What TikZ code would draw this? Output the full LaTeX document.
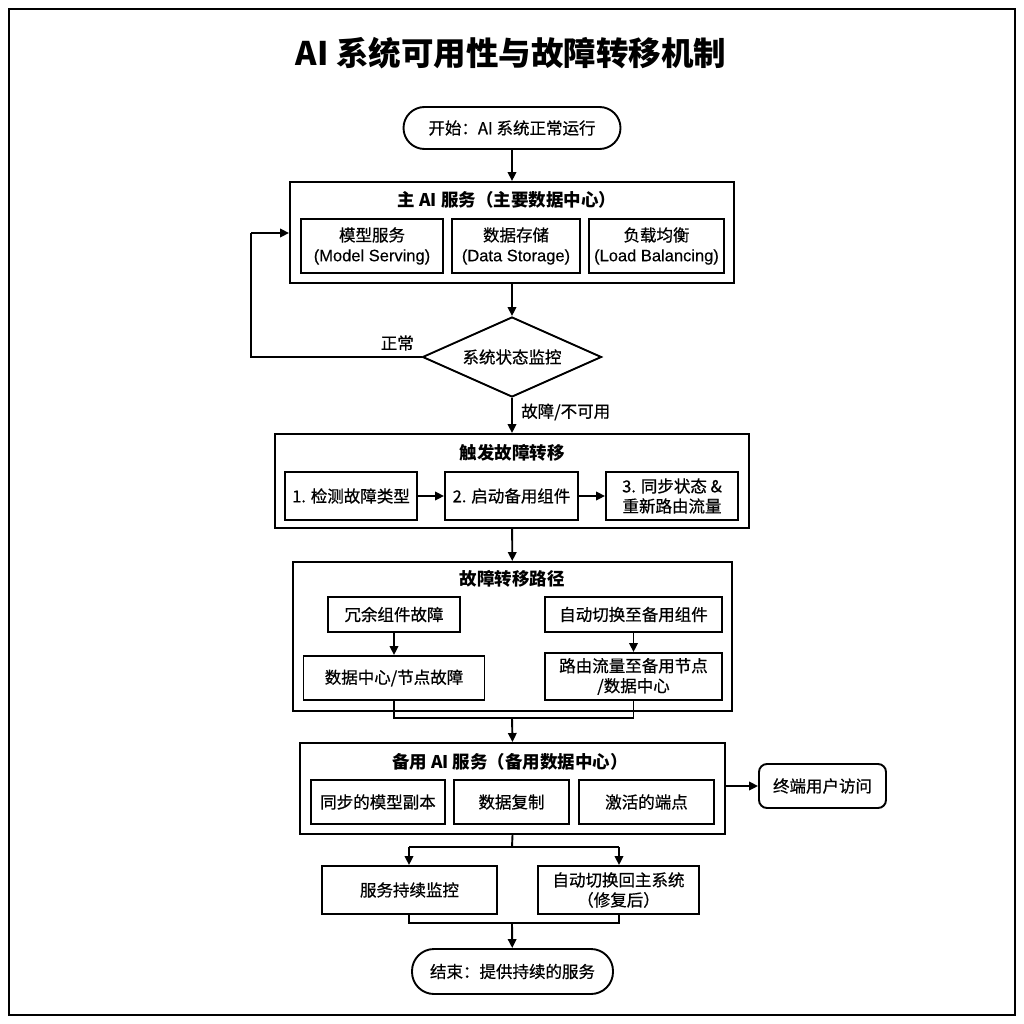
\documentclass[tikz,border=0pt]{standalone}
\usepackage{fontspec}
\setmainfont{Noto Sans CJK SC}
\newfontfamily\med{Noto Sans CJK SC}[FakeBold=0.6]
\newfontfamily\lat{Liberation Sans}[FakeBold=0.3]
\usetikzlibrary{shapes.geometric,arrows.meta}
\tikzset{
  lw/.style={line width=1.9pt},
  frame/.style={draw, lw, rectangle, inner sep=0pt},
  sub/.style={draw, lw, rectangle, inner sep=0pt, align=center, font=\med\fontsize{16.5}{20}\selectfont},
  ttl/.style={inner sep=0pt, font=\fontsize{17.5}{20}\selectfont\bfseries},
  pill/.style={draw, lw, rectangle, rounded corners=21pt, inner sep=0pt, font=\med\fontsize{16.5}{20}\selectfont},
  lbl/.style={inner sep=0pt, font=\med\fontsize{16.5}{20}\selectfont},
  arr/.style={lw, -{Triangle[length=9pt,width=8.5pt]}},
  ln/.style={lw}
}
\begin{document}
\begin{tikzpicture}[x=1pt,y=-1pt]
\useasboundingbox (0,0) rectangle (1024,1024);
\draw[line width=2pt] (8.5,9) rectangle (1015,1015);
\node[inner sep=0pt, font=\fontsize{32.5}{36}\selectfont\bfseries] (title) at (511,53) {AI 系统可用性与故障转移机制};

% start
\node[pill, minimum width=217pt, minimum height=42pt] (start) at (512,128) {开始：AI 系统正常运行};

% main service
\node[frame, minimum width=444pt, minimum height=101pt] (main) at (512,232.5) {};
\node[ttl] (maint) at (507,200) {主 AI 服务（主要数据中心）};
\node[sub, minimum width=142pt, minimum height=54pt] (ms) at (372,246) {模型服务\\{\lat (Model Serving)}};
\node[sub, minimum width=128pt, minimum height=54pt] (dst) at (516,246) {数据存储\\{\lat (Data Storage)}};
\node[sub, minimum width=135pt, minimum height=54pt] (lb) at (656.5,246) {负载均衡\\{\lat (Load Balancing)}};

% decision
\node[draw, lw, diamond, aspect=2.24, inner sep=0pt, minimum width=179pt, minimum height=80pt, font=\med\fontsize{16.5}{20}\selectfont] (dec) at (512,357) {系统状态监控};
\node[lbl, anchor=east] (ok) at (414,343) {正常};
\node[lbl, anchor=west] (fail) at (521,412) {故障/不可用};
\coordinate (lp1) at (251,357);
\coordinate (lp2) at (251,233);
\coordinate (lp3) at (main.west |- lp2);

% trigger
\node[frame, minimum width=474pt, minimum height=94pt] (trig) at (512,481) {};
\node[ttl] (trigt) at (512,453) {触发故障转移};
\node[sub, minimum width=132pt, minimum height=48pt] (t1) at (351,496) {1. 检测故障类型};
\node[sub, minimum width=133pt, minimum height=48pt] (t2) at (511.5,496) {2. 启动备用组件};
\node[sub, minimum width=132pt, minimum height=48pt] (t3) at (672,496) {3. 同步状态 \&\\重新路由流量};

% path
\node[frame, minimum width=439pt, minimum height=149pt] (path) at (512.5,636.5) {};
\node[ttl] (patht) at (512,579) {故障转移路径};
\node[sub, minimum width=132pt, minimum height=35pt] (p1) at (394,614.5) {冗余组件故障};
\node[sub, minimum width=181pt, minimum height=44pt] (p2) at (394,678) {数据中心/节点故障};
\node[sub, minimum width=177pt, minimum height=35pt] (p3) at (633.5,614.5) {自动切换至备用组件};
\node[sub, minimum width=177pt, minimum height=47pt] (p4) at (633.5,676.5) {路由流量至备用节点\\/数据中心};
\coordinate (m1) at (394,718);
\coordinate (m2) at (633.5,718);
\coordinate (m3) at (512,718);

% backup
\node[frame, minimum width=425pt, minimum height=91pt] (bk) at (512.5,788.5) {};
\node[ttl] (bkt) at (510,762) {备用 AI 服务（备用数据中心）};
\node[sub, minimum width=134pt, minimum height=44pt] (b1) at (378,802) {同步的模型副本};
\node[sub, minimum width=115pt, minimum height=44pt] (b2) at (511.5,802) {数据复制};
\node[sub, minimum width=135pt, minimum height=44pt] (b3) at (646.5,802) {激活的端点};
\node[draw, lw, rectangle, rounded corners=8pt, inner sep=0pt, minimum width=127pt, minimum height=44pt, font=\med\fontsize{16.5}{20}\selectfont] (eu) at (822.5,786) {终端用户访问};

% lower
\coordinate (s0) at (512,847);
\coordinate (s1) at (409,847);
\coordinate (s2) at (619,847);
\node[sub, minimum width=175pt, minimum height=48pt] (mon) at (409.5,890) {服务持续监控};
\node[sub, minimum width=161pt, minimum height=48pt] (fb) at (618.5,890) {自动切换回主系统\\（修复后）};
\coordinate (e1) at (409,923);
\coordinate (e2) at (619,923);
\coordinate (e3) at (512,923);
\node[pill, minimum width=201pt, minimum height=45pt, rounded corners=22pt] (end) at (512.5,971.5) {结束：提供持续的服务};

% connectors
\draw[arr] (start) -- (main);
\draw[arr] (main) -- (dec);
\draw[ln] (dec.west) -- (lp1) -- (lp2);
\draw[arr] (lp2) -- (lp3);
\draw[arr] (dec) -- (trig);
\draw[arr] (t1) -- (t2);
\draw[arr] (t2) -- (t3);
\draw[arr] (trig) -- (path);
\draw[arr] (p1) -- (p2);
\draw[arr] (p3) -- (p4);
\draw[ln] (p2.south) -- (m1) -- (m2) -- (p4.south);
\draw[arr] (m3) -- (bk.north);
\draw[arr] (bk.east |- eu.west) -- (eu.west);
\draw[ln] (bk.south) -- (s0);
\draw[ln] (s1) -- (s2);
\draw[arr] (s1) -- (mon.north -| s1);
\draw[arr] (s2) -- (fb.north -| s2);
\draw[ln] (mon.south -| e1) -- (e1) -- (e2) -- (fb.south -| e2);
\draw[arr] (e3) -- (end);
\end{tikzpicture}
\end{document}
